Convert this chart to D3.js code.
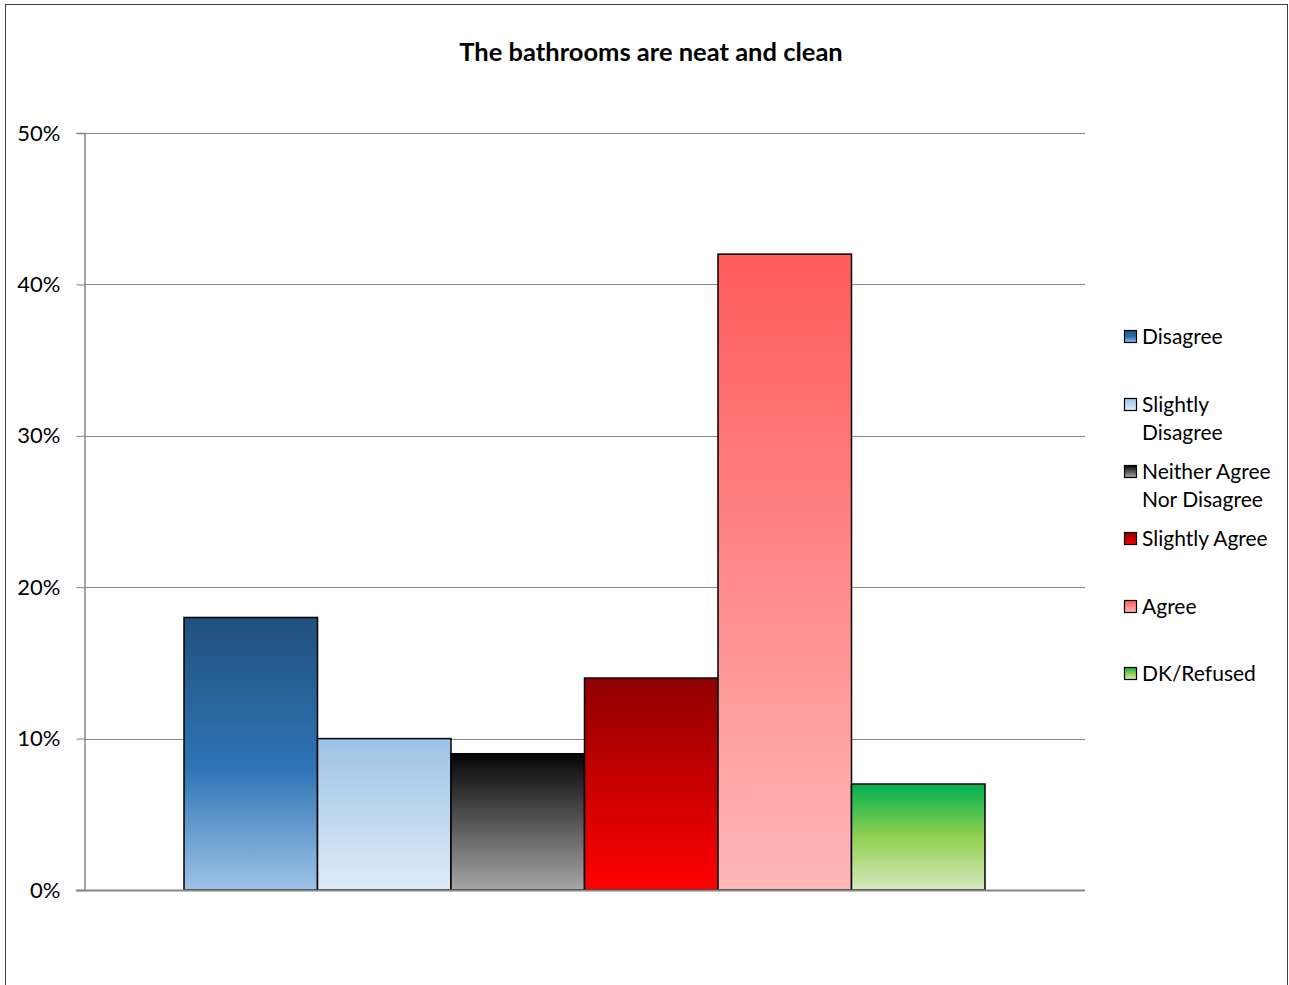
<!DOCTYPE html>
<html><head><meta charset="utf-8">
<script src="https://cdnjs.cloudflare.com/ajax/libs/d3/7.8.5/d3.min.js"></script>
<style>body{margin:0;background:#fff;}svg{display:block;font-family:Lato,"Open Sans",sans-serif;}</style>
</head><body><svg id="c" width="1289" height="985"></svg>
<script>
const title = "The bathrooms are neat and clean";
const categories = ["Disagree","Slightly Disagree","Neither Agree Nor Disagree","Slightly Agree","Agree","DK/Refused"];
const legendLines = [["Disagree"],["Slightly","Disagree"],["Neither Agree","Nor Disagree"],["Slightly Agree"],["Agree"],["DK/Refused"]];
const values = [0.18,0.10,0.09,0.14,0.42,0.07];
const yTicks = [0,0.1,0.2,0.3,0.4,0.5];
const gradients = [
  [[0,"#21507c"],[0.55,"#2e74b5"],[1,"#9dc3e6"]],
  [[0,"#9dc3e6"],[1,"#deebf7"]],
  [[0,"#050505"],[1,"#a6a6a6"]],
  [[0,"#900000"],[1,"#ff0000"]],
  [[0,"#ff5b5b"],[1,"#ffb7b7"]],
  [[0,"#00b050"],[0.5,"#92d050"],[1,"#d8e8c0"]]
];

const svg = d3.select("#c");
const defs = svg.append("defs");
gradients.forEach((g,i)=>{
  const lg = defs.append("linearGradient").attr("id","g"+i).attr("x1",0).attr("y1",0).attr("x2",0).attr("y2",1);
  g.forEach(s=>lg.append("stop").attr("offset",s[0]).attr("stop-color",s[1]));
});

svg.append("rect").attr("x",5.5).attr("y",4.5).attr("width",1282).attr("height",1000)
  .attr("fill","#fff").attr("stroke","#404040").attr("stroke-width",1);

const L=84, R=1085, T=133, B=890;
const y = d3.scaleLinear().domain([0,0.5]).range([B,T]);
const x0 = d3.scaleBand().domain(["g"]).range([L,R]).paddingInner(0).paddingOuter(100/801);
const x = d3.scaleBand().domain(categories).range([x0("g"), x0("g")+x0.bandwidth()]).padding(0);

// gridlines
svg.append("g").selectAll("line").data(yTicks.filter(d=>d>0)).join("line")
  .attr("x1",L).attr("x2",R).attr("y1",d=>Math.round(y(d))+0.5).attr("y2",d=>Math.round(y(d))+0.5)
  .attr("stroke","#868686").attr("stroke-width",1);

// y axis
const ax = svg.append("g").attr("transform",`translate(${L+0.5},0)`)
  .call(d3.axisLeft(y).tickValues(yTicks).tickFormat(d3.format(".0%")).tickSize(8).tickPadding(16));
ax.select(".domain").attr("stroke","#868686").attr("stroke-width",1.5);
ax.selectAll(".tick line").attr("stroke","#868686");
ax.selectAll(".tick text").attr("font-size",22).attr("fill","#000").attr("font-family","Lato,sans-serif");

// bars
svg.append("g").selectAll("rect").data(values).join("rect")
  .attr("x",(d,i)=>x(categories[i])).attr("width",x.bandwidth())
  .attr("y",d=>y(d)).attr("height",d=>B-y(d))
  .attr("fill",(d,i)=>`url(#g${i})`).attr("stroke","#000").attr("stroke-width",1.5);

// x axis baseline
svg.append("line").attr("x1",L-8).attr("x2",R).attr("y1",B+0.5).attr("y2",B+0.5)
  .attr("stroke","#868686").attr("stroke-width",2);

// title
svg.append("text").attr("x",651).attr("y",61).attr("text-anchor","middle")
  .attr("font-size",25.5).attr("font-weight","bold").text(title);

// legend
const legY = [337,405,472,539,607,674];
const lg = svg.append("g");
legendLines.forEach((lines,i)=>{
  const g = lg.append("g").attr("transform",`translate(0,${legY[i]})`);
  g.append("rect").attr("x",1124.5).attr("y",-6.5).attr("width",12).attr("height",12)
    .attr("fill",`url(#g${i})`).attr("stroke","#000").attr("stroke-width",1.2);
  lines.forEach((t,j)=>g.append("text").attr("x",1142).attr("y",7+j*27.5).attr("font-size",21).text(t));
});
</script></body></html>
